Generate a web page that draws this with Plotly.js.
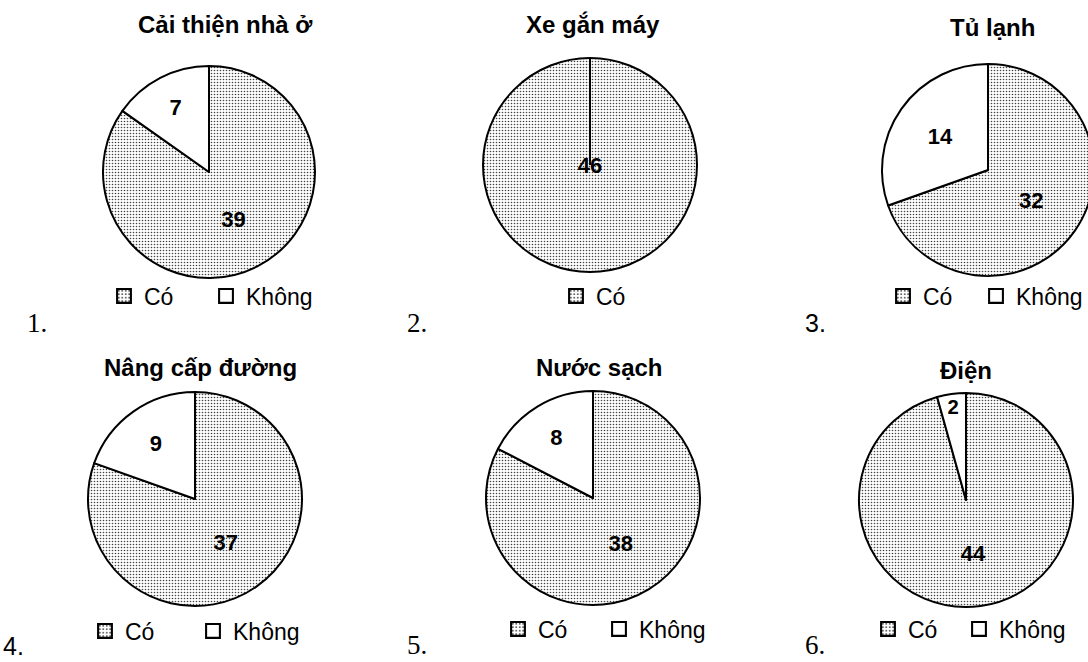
<!DOCTYPE html>
<html>
<head>
<meta charset="utf-8">
<script src="https://cdn.plot.ly/plotly-3.0.1.min.js"></script>
<style>
  html, body { margin: 0; padding: 0; overflow: hidden; background: #fff; }
  #board { position: relative; width: 1100px; height: 662px; }
  .panel { position: absolute; left: 0; top: 0; width: 1100px; height: 662px; }
</style>
</head>
<body>
<div id="board"></div>
<script>
// Survey results: households answering "Có" (yes) / "Không" (no) per item
const titles = ['Cải thiện nhà ở', 'Xe gắn máy', 'Tủ lạnh', 'Nâng cấp đường', 'Nước sạch', 'Điện'];
const answers = ['Có', 'Không'];
const yesCounts = [39, 46, 32, 37, 38, 44];
const noCounts  = [7, 0, 14, 9, 8, 2];
const panelNumbers = ['1.', '2.', '3.', '4.', '5.', '6.'];

// ---- placement of the six panels on a shared pixel canvas ----
const W = 1100, H = 662;
const pies = [
  { cx: 209, cy: 172, r: 106 },
  { cx: 590, cy: 165, r: 107 },
  { cx: 988, cy: 170, r: 106 },
  { cx: 195, cy: 499, r: 107 },
  { cx: 593, cy: 498, r: 107 },
  { cx: 966, cy: 500, r: 107 }
];
const titlePos = [[225, 25], [593, 25], [992, 27], [200, 367], [599, 367], [966, 370]];
// legend: left of first marker, row centre, spacing between entries
const legendPos = [[118, 296, 102], [570, 296, 102], [897, 296, 93], [99, 631, 108], [512, 629, 101], [882, 629, 91]];
// panel number: left, glyph centre (null = sits on the bottom edge), font style
const numberPos = [[25, 323, 'serif'], [405, 323, 'serif'], [803, 323, 'sans'], [1, null, 'sans'], [405, null, 'serif'], [803, null, 'serif']];

const SANS = 'Liberation Sans, Arial, sans-serif';
const SERIF = 'Liberation Serif, Times New Roman, serif';

const board = document.getElementById('board');

titles.forEach((title, i) => {
  const p = pies[i];
  // drop answers with a zero count
  const labels = [], values = [], shapes = [], colors = [];
  [yesCounts[i], noCounts[i]].forEach((v, k) => {
    if (v > 0) {
      labels.push(answers[k]);
      values.push(v);
      shapes.push(k === 0 ? '.' : '');
      colors.push('#ffffff');
    }
  });

  const trace = {
    type: 'pie',
    labels: labels,
    values: values,
    sort: false,
    direction: 'clockwise',
    rotation: 0,
    textinfo: 'value',
    textposition: 'inside',
    insidetextorientation: 'horizontal',
    textfont: { family: SANS, size: 22, color: '#000', weight: 'bold' },
    marker: {
      colors: colors,
      line: { color: '#000', width: 2 },
      pattern: { shape: shapes, fillmode: 'replace', bgcolor: '#ffffff', fgcolor: '#444444', size: 3, solidity: 0.24 }
    },
    domain: {
      x: [(p.cx - p.r) / W, (p.cx + p.r) / W],
      y: [(H - p.cy - p.r) / H, (H - p.cy + p.r) / H]
    },
    showlegend: true
  };

  const lp = legendPos[i];
  const tp = titlePos[i];
  const np = numberPos[i];
  const layout = {
    width: W, height: H,
    margin: { l: 0, r: 0, t: 0, b: 0 },
    paper_bgcolor: 'rgba(0,0,0,0)',
    plot_bgcolor: 'rgba(0,0,0,0)',
    font: { family: SANS, color: '#000' },
    hovermode: false,
    shapes: [],
    legend: {
      orientation: 'h',
      x: (lp[0] - 14) / W, xanchor: 'left',
      y: 1 - lp[1] / H, yanchor: 'middle',
      entrywidth: lp[2] - 45,
      traceorder: 'normal',
      bgcolor: 'rgba(0,0,0,0)',
      borderwidth: 0,
      font: { family: SANS, size: 23, color: '#000' }
    },
    annotations: [
      {
        xref: 'paper', yref: 'paper',
        x: tp[0] / W, y: 1 - tp[1] / H,
        xanchor: 'center', yanchor: 'middle',
        text: '<b>' + title + '</b>',
        showarrow: false,
        font: { family: SANS, size: 24, color: '#000' }
      },
      {
        xref: 'paper', yref: 'paper',
        x: np[0] / W,
        y: np[1] === null ? 0 : 1 - np[1] / H,
        xanchor: 'left', yanchor: np[1] === null ? 'bottom' : 'middle',
        text: panelNumbers[i],
        showarrow: false,
        font: { family: np[2] === 'serif' ? SERIF : SANS, size: np[2] === 'serif' ? 27 : 25, color: '#000' }
      }
    ]
  };

  // full single-slice pie: mark the slice seam from centre to 12 o'clock
  if (values.length === 1) {
    layout.shapes.push({
      type: 'line', xref: 'paper', yref: 'paper',
      x0: p.cx / W, x1: p.cx / W,
      y0: (H - p.cy) / H, y1: (H - p.cy + p.r) / H,
      line: { color: '#000', width: 2 }
    });
  }

  const div = document.createElement('div');
  div.className = 'panel';
  board.appendChild(div);
  Plotly.newPlot(div, [trace], layout, { staticPlot: true, displayModeBar: false }).then(() => {
    // let the last legend entry's text run past the fixed entry width
    div.querySelectorAll('.legend .scrollbox, .legend').forEach(el => {
      el.removeAttribute('clip-path');
      el.style.clipPath = 'none';
    });
    // slightly larger legend swatches with a heavier outline
    div.querySelectorAll('.legend .legendpoints path').forEach(el => {
      const t = el.getAttribute('transform') || '';
      el.setAttribute('transform', t + ' scale(1.15)');
      el.style.strokeWidth = '1.8px';
      el.style.stroke = '#000';
    });
  });
});
</script>
</body>
</html>
